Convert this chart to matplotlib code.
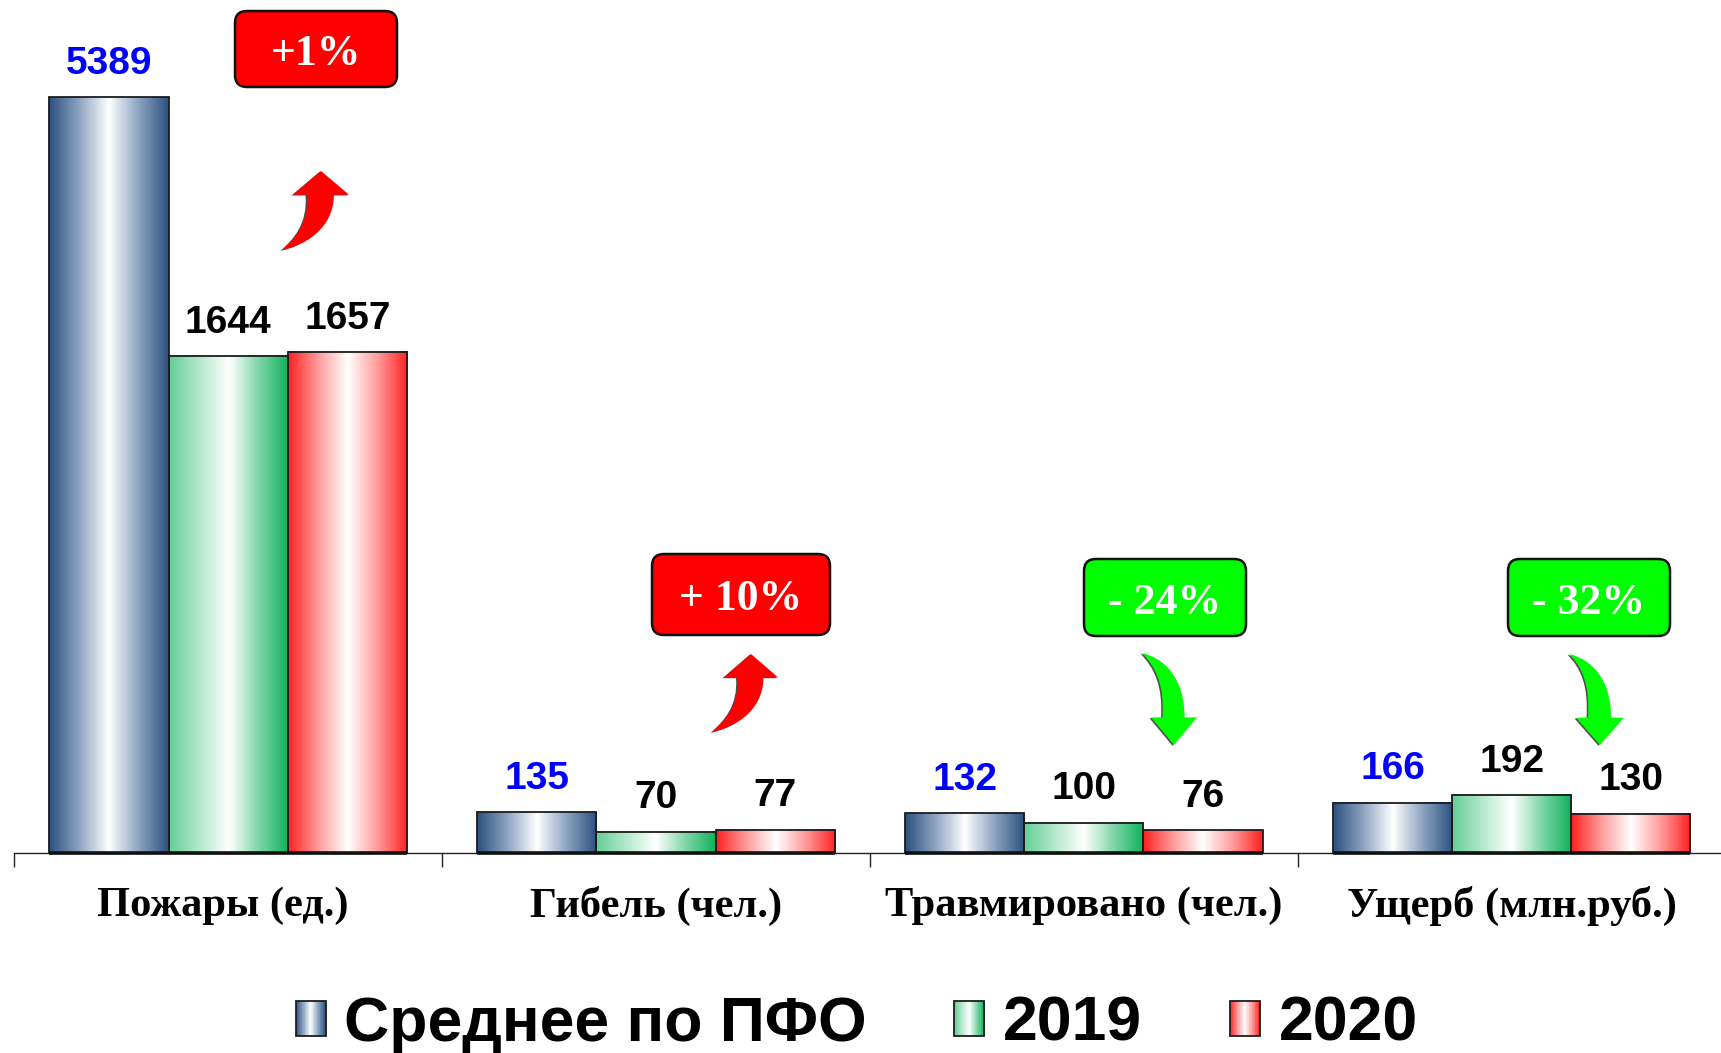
import numpy as np
import matplotlib
matplotlib.use("Agg")
import matplotlib.pyplot as plt
from matplotlib.colors import LinearSegmentedColormap
from matplotlib.legend_handler import HandlerBase
from matplotlib.patches import FancyBboxPatch, PathPatch, Rectangle
from matplotlib.path import Path
from matplotlib.transforms import ScaledTranslation

categories = ["Пожары (ед.)", "Гибель (чел.)", "Травмировано (чел.)", "Ущерб (млн.руб.)"]
series_names = ["Среднее по ПФО", "2019", "2020"]
avg_pfo = [5389, 135, 132, 166]
y2019 = [1644, 70, 100, 192]
y2020 = [1657, 77, 76, 130]
changes = ["+1%", "+ 10%", "- 24%", "- 32%"]

W, H = 1721, 1053
YMAX = 2500
SANS, SERIF = "Liberation Sans", "Liberation Serif"
series = [avg_pfo, y2019, y2020]
stops = [
    ["#2B5080", "#8CA3C0", "#FFFFFF", "#8CA3C0", "#2B5080"],
    ["#62CE95", "#B4E8CC", "#FFFFFF", "#7FD6A8", "#0DB25A"],
    ["#FF2020", "#FF9A9A", "#FFFFFF", "#FF9A9A", "#FF2020"],
]
cmaps = [LinearSegmentedColormap.from_list(f"g{i}", s) for i, s in enumerate(stops)]
label_colors = ["#0000FF", "black", "black"]
EDGE = "#1c1c1c"

fig = plt.figure(figsize=(W / 100, H / 100), dpi=100, facecolor="white")
left, right, base, top = 14.3, 14.3 + 4 * 427.8, 853, 97
ax = fig.add_axes([left / W, 1 - base / H, (right - left) / W, (base - top) / H])
ax.set_xlim(0, 4)
ax.set_ylim(0, YMAX)
for s in ("top", "left", "right"):
    ax.spines[s].set_visible(False)
ax.spines["bottom"].set_linewidth(1.0)
ax.spines["bottom"].set_color("#222222")
ax.yaxis.set_visible(False)
ax.set_xticks(np.arange(0, 5))
ax.set_xticklabels([])
ax.set_xticks(np.arange(len(categories)) + 0.5, minor=True)
ax.set_xticklabels(categories, minor=True, fontfamily=SERIF, fontweight="bold", fontsize=30.6)
ax.tick_params(axis="x", which="major", length=10, width=1.0, color="#222222")
ax.tick_params(axis="x", which="minor", length=0, pad=24)
first_label = ax.get_xticklabels(minor=True)[0]
first_label.set_transform(first_label.get_transform()
                          + ScaledTranslation(-5.5 / 100, 0, fig.dpi_scale_trans))

grad = np.linspace(0, 1, 256).reshape(1, -1)
bw = 0.2785
xc = np.arange(len(categories)) + 0.5
for i, vals in enumerate(series):
    xs = xc + (i - 1) * bw
    bars = ax.bar(xs, vals, width=bw, facecolor="none", edgecolor=EDGE, linewidth=1.3, zorder=3)
    for b, v in zip(bars, vals):
        x0, w = b.get_x(), b.get_width()
        shown = min(v, YMAX)
        im = ax.imshow(grad, cmap=cmaps[i], extent=(x0, x0 + w, 0, shown), aspect="auto", zorder=2)
        if v > YMAX:
            ax.plot([x0, x0 + w], [YMAX, YMAX], color=EDGE, lw=1.3, clip_on=False, zorder=4)
        ax.plot([x0, x0 + w], [0, 0], color="#111111", lw=2.6, clip_on=False, zorder=4,
                solid_capstyle="butt")
        ax.annotate(str(v), (x0 + w / 2, shown), xytext=(0, 24), textcoords="offset points",
                    ha="center", va="center", fontfamily=SANS, fontweight="bold", fontsize=28,
                    color=label_colors[i], annotation_clip=False, zorder=5)
ax.set_xlim(0, 4)
ax.set_ylim(0, YMAX)


class GradientHandler(HandlerBase):
    def __init__(self, cmap):
        super().__init__()
        self.cmap = cmap

    def create_artists(self, legend, orig, xd, yd, width, height, fontsize, trans):
        n = 40
        out = []
        for k in range(n):
            r = Rectangle((xd * -1 + width * k / n, -yd), width / n + 0.3, height,
                          facecolor=self.cmap((k + 0.5) / n), edgecolor="none", transform=trans)
            out.append(r)
        out.append(Rectangle((-xd, -yd), width, height, facecolor="none", edgecolor=EDGE,
                             linewidth=1.3, transform=trans))
        return out


handles = [Rectangle((0, 0), 1, 1) for _ in series_names]
leg = fig.legend(
    handles, series_names, ncol=3, frameon=False, loc="center",
    bbox_to_anchor=(780.5 * 1.0976 / W, 1 - 1024 / H),
    prop={"family": SANS, "weight": "bold", "size": 45},
    handler_map={h: GradientHandler(c) for h, c in zip(handles, cmaps)},
    handlelength=0.48, handleheight=0.48, handletextpad=0.3, columnspacing=1.4,
)

ov = fig.add_axes([0, 0, 1, 1], facecolor="none")
ov.set_xlim(0, W)
ov.set_ylim(H, 0)
ov.axis("off")

boxes = [(235, 11, 162, 76, "#FF0000"), (652, 554, 178, 81, "#FF0000"),
         (1084, 559, 162, 77, "#00FF00"), (1508, 559, 162, 77, "#00FF00")]
for (x, y, w, h, c), t in zip(boxes, changes):
    r = 12
    ov.add_patch(FancyBboxPatch((x + r, y + r), w - 2 * r, h - 2 * r,
                                boxstyle=f"round,pad={r},rounding_size={r}",
                                facecolor=c, edgecolor="#111111", linewidth=1.8, zorder=6))
    ov.text(x + w / 2, y + h / 2 + 5, t, ha="center", va="center", color="white",
            fontfamily=SERIF, fontweight="bold", fontsize=31.5, zorder=7)


def arrow(tip_x, tip_y, tail_x, tail_y, head_half, color):
    """Curved arrow; the head sits at the tip and the tail bends off to the left."""
    sgn = 1 if tail_y > tip_y else -1
    hl = 0.30 * abs(tail_y - tip_y)
    hy = tip_y + sgn * hl
    sx = tip_x
    ll = sx - head_half * 0.50
    rr = sx + head_half * 0.46
    L = abs(tail_y - hy)
    verts = [
        (sx, tip_y), (sx + head_half, hy), (rr, hy),
        (rr, hy + sgn * 0.62 * L), (tail_x + 22, hy + sgn * 0.92 * L), (tail_x, tail_y),
        (tail_x + 14, hy + sgn * 0.78 * L), (ll + 2, hy + sgn * 0.50 * L), (ll, hy),
        (sx - head_half, hy), (sx, tip_y), (sx, tip_y),
    ]
    codes = [Path.MOVETO, Path.LINETO, Path.LINETO,
             Path.CURVE4, Path.CURVE4, Path.CURVE4,
             Path.CURVE4, Path.CURVE4, Path.CURVE4,
             Path.LINETO, Path.LINETO, Path.CLOSEPOLY]
    p = Path(verts, codes)
    shadow = Path(np.array(verts) + np.array([-1.5, 0.8]), codes)
    ov.add_patch(PathPatch(shadow, facecolor="#222222", edgecolor="none", alpha=0.8, zorder=5))
    ov.add_patch(PathPatch(p, facecolor=color, edgecolor="none", zorder=6))


arrow(321, 171, 282, 250, 28, "#FF0000")
arrow(751, 654, 712, 732, 27, "#FF0000")
arrow(1174, 745, 1142, 653, 23, "#00FF00")
arrow(1600, 745, 1569, 654, 24, "#00FF00")

fig.savefig("out.png", dpi=100, facecolor="white")
